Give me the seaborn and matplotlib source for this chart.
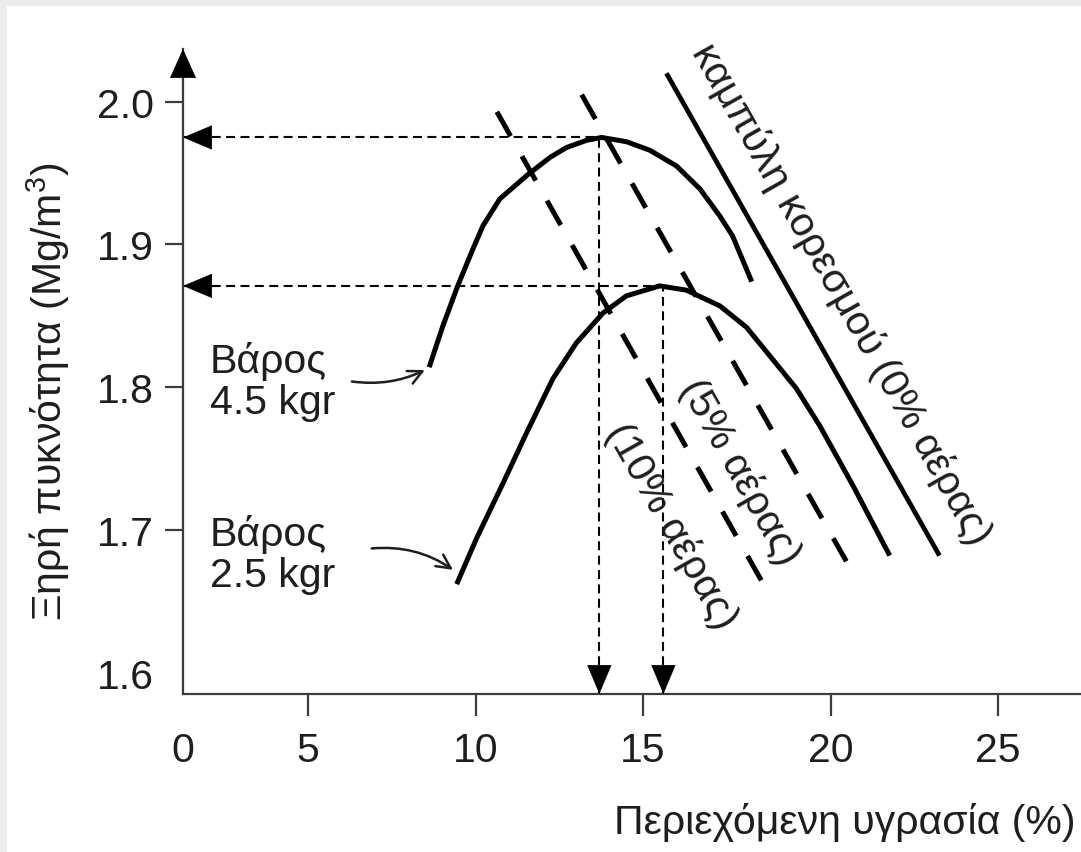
import numpy as np
import pandas as pd
import matplotlib
matplotlib.use("Agg")
import matplotlib.pyplot as plt
from matplotlib.patches import Rectangle
import seaborn as sns

# ---------------- data ----------------
# compaction curve, 4.5 kgr rammer
w_45 = [8.61, 9.02, 9.46, 9.88, 10.21, 10.72, 11.56, 12.22, 12.72, 13.32,
        13.77, 14.52, 15.19, 15.90, 16.52, 17.05, 17.39, 17.90]
rho_45 = [1.814, 1.843, 1.871, 1.895, 1.913, 1.932, 1.949, 1.961, 1.968, 1.973,
          1.975, 1.972, 1.966, 1.955, 1.939, 1.920, 1.906, 1.874]
# compaction curve, 2.5 kgr rammer
w_25 = [9.43, 10.02, 10.82, 11.52, 12.31, 13.01, 13.81, 14.51, 15.45, 16.16,
        17.05, 17.76, 18.38, 19.09, 19.71, 20.67, 21.77]
rho_25 = [1.662, 1.694, 1.733, 1.768, 1.806, 1.831, 1.852, 1.864, 1.871, 1.868,
          1.857, 1.842, 1.822, 1.799, 1.773, 1.731, 1.682]
# air-void lines (0 %, 5 %, 10 %)
w_air0 = [15.63, 23.26]
rho_air0 = [2.020, 1.682]
w_air5 = [13.17, 20.47]
rho_air5 = [2.005, 1.678]
w_air10 = [10.63, 18.19]
rho_air10 = [1.993, 1.663]
# optimum moisture / maximum dry density
w_opt = [13.7, 15.55]
rho_max = [1.975, 1.871]

x_ticks = [0, 5, 10, 15, 20, 25]
y_ticks = [1.6, 1.7, 1.8, 1.9, 2.0]
weight_labels = ["Βάρος\n4.5 kgr", "Βάρος\n2.5 kgr"]
air_labels = ["καμπύλη κορεσμού (0% αέρας)", "(5% αέρας)", "(10% αέρας)"]
x_title = "Περιεχόμενη υγρασία (%)"
y_title = "Ξηρή πυκνότητα (Mg/m$^3$)"

# uneven tick spacing of the hand-drawn original axis (relative lengths)
x_tick_spacing = [0, 125, 293, 460, 648, 815]

# ---------------- style ----------------
sns.set_theme(style="white")
plt.rcParams["font.family"] = ["Liberation Sans", "DejaVu Sans"]
plt.rcParams["mathtext.fontset"] = "custom"
plt.rcParams["mathtext.rm"] = "Liberation Sans"
plt.rcParams["mathtext.it"] = "Liberation Sans:italic"
FS = 29.5
INK = "#1e1e1e"
AX = "#3c3c3c"

fig = plt.figure(figsize=(10.81, 8.53), dpi=100)
fig.patch.set_facecolor("white")
ax = fig.add_axes([183 / 1081, 1 - 695 / 853, 1 - 183 / 1081, (695 - 50) / 853])
ax.set_facecolor("white")

kv = [-10] + x_ticks + [40]
kp = [-334] + x_tick_spacing + [815 + 15 * 33.4]


def fwd(v):
    return np.interp(np.asarray(v, dtype=float), kv, kp)


def inv(p):
    return np.interp(np.asarray(p, dtype=float), kp, kv)


ax.set_xscale("function", functions=(fwd, inv))
ax.set_xlim(0, 27.5)
ax.set_ylim(1.585, 2.037)

# ---------------- curves ----------------
df = pd.concat([
    pd.DataFrame({"w": w_45, "rho": rho_45, "curve": "4.5"}),
    pd.DataFrame({"w": w_25, "rho": rho_25, "curve": "2.5"}),
])
sns.lineplot(data=df, x="w", y="rho", units="curve", estimator=None,
             color="black", lw=3.6, ax=ax, legend=False,
             solid_capstyle="butt", solid_joinstyle="round")

sns.lineplot(x=w_air0, y=rho_air0, color="black", lw=3.4, ax=ax,
             estimator=None, solid_capstyle="butt")
for wl, rl in [(w_air5, rho_air5), (w_air10, rho_air10)]:
    sns.lineplot(x=wl, y=rl, color="black", lw=3.6, ax=ax, estimator=None,
                 linestyle=(0, (5.6, 4.6)), dash_capstyle="butt")

# ---------------- guide arrows to the axes ----------------
y0 = ax.get_ylim()[0]
head = dict(arrowstyle="-|>,head_length=1.0,head_width=0.42",
            mutation_scale=20, lw=0.5, color="black", shrinkA=0, shrinkB=0)
for wo, rm in zip(w_opt, rho_max):
    # dashed guides
    ax.plot([0, wo], [rm, rm], color="black", lw=1.5, ls=(0, (4.3, 2.6)),
            clip_on=False)
    ax.plot([wo, wo], [y0, rm], color="black", lw=1.5, ls=(0, (4.3, 2.6)),
            clip_on=False)
    # solid heads at the axes
    ax.annotate("", xy=(0, rm), xytext=(20, 0), textcoords="offset points",
                arrowprops=head, annotation_clip=False)
    ax.annotate("", xy=(wo, y0), xytext=(0, 20), textcoords="offset points",
                arrowprops=head, annotation_clip=False)

# y-axis arrow head
ax.annotate("", xy=(0, 1), xytext=(0, -20), xycoords="axes fraction",
            textcoords="offset points",
            arrowprops=dict(arrowstyle="-|>,head_length=1.0,head_width=0.45",
                            mutation_scale=20, lw=0.5, color="black",
                            shrinkA=0, shrinkB=0),
            annotation_clip=False)

# ---------------- weight labels ----------------
ax.text(1.08, 1.804, weight_labels[0], fontsize=FS, color=INK,
        ha="left", va="center", linespacing=1.1)
ax.text(1.08, 1.683, weight_labels[1], fontsize=FS, color=INK,
        ha="left", va="center", linespacing=1.1)
ax.annotate("", xy=(8.48, 1.812), xytext=(6.31, 1.804),
            arrowprops=dict(arrowstyle="->,head_length=0.5,head_width=0.25",
                            mutation_scale=20, lw=1.8, color=INK,
                            connectionstyle="arc3,rad=0.15",
                            shrinkA=0, shrinkB=0))
ax.annotate("", xy=(9.32, 1.672), xytext=(6.90, 1.687),
            arrowprops=dict(arrowstyle="->,head_length=0.5,head_width=0.25",
                            mutation_scale=20, lw=1.8, color=INK,
                            connectionstyle="arc3,rad=-0.18",
                            shrinkA=0, shrinkB=0))


# ---------------- rotated line labels ----------------
def line_angle(wl, rl):
    p1 = ax.transData.transform((wl[0], rl[0]))
    p2 = ax.transData.transform((wl[1], rl[1]))
    return np.degrees(np.arctan2(p2[1] - p1[1], p2[0] - p1[0]))


for lab, (wl, rl), pos in zip(
        air_labels,
        [(w_air0, rho_air0), (w_air5, rho_air5), (w_air10, rho_air10)],
        [(20.32, 1.866), (17.58, 1.741), (15.77, 1.703)]):
    ax.text(pos[0], pos[1], lab, fontsize=FS, color=INK, ha="center",
            va="center", rotation=line_angle(wl, rl), rotation_mode="anchor")

# ---------------- axes ----------------
for s in ["top", "right"]:
    ax.spines[s].set_visible(False)
for s in ["left", "bottom"]:
    ax.spines[s].set_color(AX)
    ax.spines[s].set_linewidth(1.6)

ax.set_xticks(x_ticks)
ax.set_xticklabels([str(t) for t in x_ticks])
ax.set_yticks(y_ticks)
ax.set_yticklabels([f"{t:.1f}" for t in y_ticks])
ax.minorticks_off()
ax.tick_params(axis="both", labelsize=FS, labelcolor=INK, color=AX, width=1.6,
               direction="out")
ax.tick_params(axis="x", length=16, pad=11, bottom=True)
ax.tick_params(axis="y", length=13, pad=8, left=True)
ax.xaxis.get_major_ticks()[0].tick1line.set_visible(False)
ax.yaxis.get_major_ticks()[0].tick1line.set_visible(False)

ax.set_xlabel(x_title, fontsize=FS, color=INK, labelpad=22)
ax.xaxis.set_label_coords(1 - 6 / 898, -0.168)
ax.xaxis.label.set_horizontalalignment("right")
ax.set_ylabel(y_title, fontsize=FS, color=INK, labelpad=20)
ax.yaxis.set_label_coords(-0.124, 0.47)

# light screenshot border of the original
fig.add_artist(Rectangle((0, 1 - 7 / 853), 1, 7 / 853, transform=fig.transFigure,
                         color="#ececec", lw=0, zorder=-5))
fig.add_artist(Rectangle((0, 0), 7 / 1081, 1, transform=fig.transFigure,
                         color="#ececec", lw=0, zorder=-5))

fig.savefig("out.png", dpi=100)
